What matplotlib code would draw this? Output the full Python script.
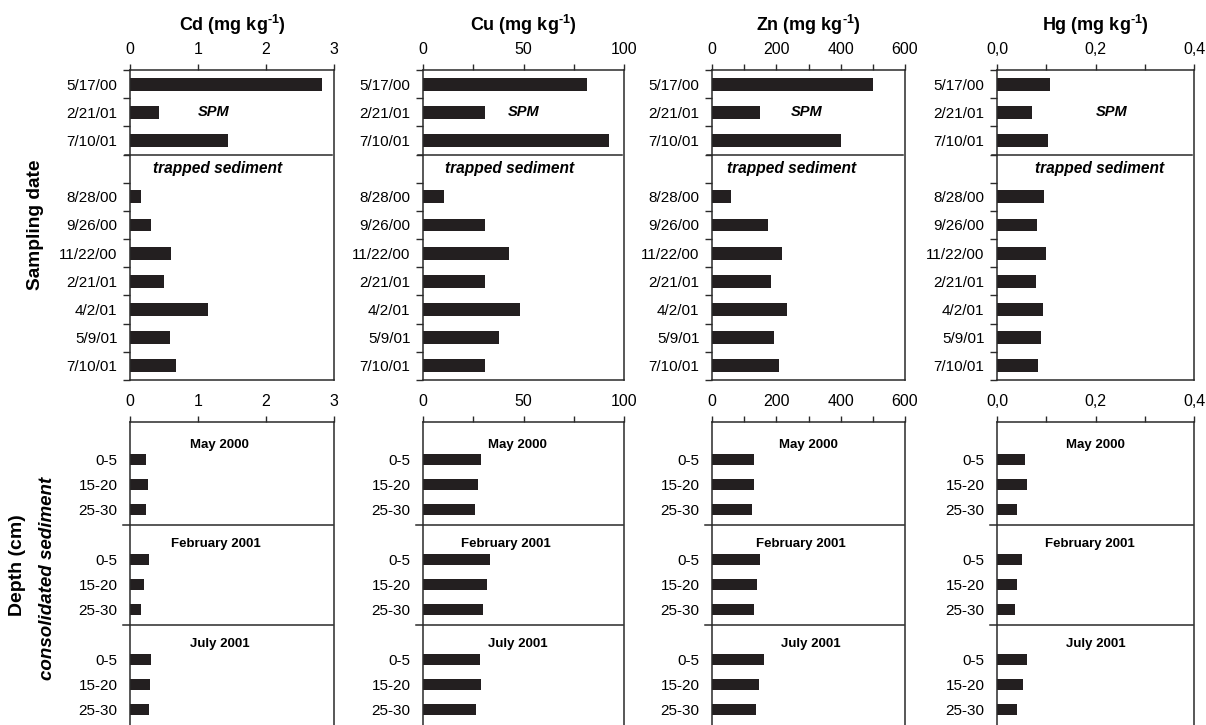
import numpy as np
import matplotlib
matplotlib.use("Agg")
import matplotlib.pyplot as plt
import matplotlib.transforms as mtransforms
from matplotlib.ticker import FixedLocator, FuncFormatter

plt.rcParams['font.family'] = ['Liberation Sans', 'DejaVu Sans']
plt.rcParams['mathtext.fontset'] = 'custom'
plt.rcParams['mathtext.rm'] = 'Liberation Sans:bold'
plt.rcParams['mathtext.bf'] = 'Liberation Sans:bold'

# --- data ---
metals = ["Cd", "Cu", "Zn", "Hg"]
xmax = [3, 100, 600, 0.4]
major_step = [1, 50, 200, 0.2]
minor_step = [1, 25, 100, 0.1]

spm_dates = ["5/17/00", "2/21/01", "7/10/01"]
trap_dates = ["8/28/00", "9/26/00", "11/22/00", "2/21/01", "4/2/01", "5/9/01", "7/10/01"]
depths = ["0-5", "15-20", "25-30"]
core_dates = ["May 2000", "February 2001", "July 2001"]

spm_cd = [2.83, 0.42, 1.44]
spm_cu = [81.6, 30.6, 92.7]
spm_zn = [501, 150, 402]
spm_hg = [0.107, 0.072, 0.103]

trap_cd = [0.16, 0.31, 0.61, 0.50, 1.15, 0.59, 0.67]
trap_cu = [10.2, 30.6, 43.0, 30.9, 48.5, 37.7, 30.6]
trap_zn = [59, 173, 218, 182, 234, 194, 209]
trap_hg = [0.096, 0.081, 0.099, 0.080, 0.093, 0.089, 0.083]

# consolidated sediment: rows = May 2000, Feb 2001, Jul 2001; cols = depths
core_cd = [[0.235, 0.265, 0.235], [0.275, 0.205, 0.155], [0.31, 0.29, 0.275]]
core_cu = [[28.7, 27.5, 25.7], [33.2, 31.7, 29.7], [28.2, 28.7, 26.2]]
core_zn = [[132, 130, 123], [149, 140, 132], [163, 146, 137]]
core_hg = [[0.056, 0.060, 0.041], [0.050, 0.041, 0.036], [0.060, 0.052, 0.041]]

spm_all = [spm_cd, spm_cu, spm_zn, spm_hg]
trap_all = [trap_cd, trap_cu, trap_zn, trap_hg]
core_all = [core_cd, core_cu, core_zn, core_hg]

# --- layout (pixels) ---
W, H = 1206, 725
col_px = [(130, 334), (423, 624), (712, 905), (997, 1194)]
top_px = (70, 380)
bot_px = (422, 725)
spm_x = [0.41, 0.50, 0.49, 0.58]
trap_x = [0.43, 0.43, 0.41, 0.52]
core_x = [[0.44, 0.42, 0.44], [0.47, 0.41, 0.47], [0.50, 0.46, 0.51], [0.50, 0.47, 0.50]]

bar_c = '#231f20'
line_c = '#2a2a2a'

fig = plt.figure(figsize=(W / 100, H / 100), dpi=100)


def fmt_factory(i):
    if metals[i] == "Hg":
        return FuncFormatter(lambda v, p: f"{v:.1f}".replace('.', ','))
    return FuncFormatter(lambda v, p: f"{v:g}")


def style_axes(ax, i):
    ax.set_xlim(0, xmax[i])
    ax.xaxis.set_ticks_position('top')
    ax.xaxis.set_label_position('top')
    ax.xaxis.set_major_locator(FixedLocator(np.arange(0, xmax[i] + 1e-9, major_step[i])))
    ax.xaxis.set_minor_locator(FixedLocator(np.arange(0, xmax[i] + 1e-9, minor_step[i])))
    ax.xaxis.set_major_formatter(fmt_factory(i))
    ax.tick_params(axis='x', which='both', direction='out', length=4, width=1,
                   color=line_c, labelsize=11.5, pad=5)
    ax.tick_params(axis='y', which='major', length=0, pad=9, labelsize=11)
    ax.tick_params(axis='y', which='minor', direction='out', length=5, width=1, color=line_c)
    for s in ['top', 'left', 'right', 'bottom']:
        ax.spines[s].set_color(line_c)
        ax.spines[s].set_linewidth(1.1)


for i in range(4):
    x0, x1 = col_px[i]
    # ---- top panel: SPM + trapped sediment ----
    ax = fig.add_axes([x0 / W, 1 - top_px[1] / H, (x1 - x0) / W, (top_px[1] - top_px[0]) / H])
    ypos = list(np.arange(3) + 0.5) + list(np.arange(7) + 4.5)
    vals = spm_all[i] + trap_all[i]
    ax.barh(ypos, vals, height=0.46, color=bar_c)
    ax.set_ylim(11, 0)
    ax.set_yticks(ypos)
    ax.set_yticklabels(spm_dates + trap_dates)
    ax.yaxis.set_minor_locator(FixedLocator(np.arange(0, 12)))
    style_axes(ax, i)
    trans = mtransforms.blended_transform_factory(ax.transAxes, ax.transData)
    ax.plot([-0.025, 0.99], [3, 3], color=line_c, lw=1.1, transform=trans, clip_on=False)
    ax.text(spm_x[i], 1.5, "SPM", transform=trans, ha='center', va='center',
            fontsize=10.5, fontweight='bold', style='italic')
    ax.text(trap_x[i], 3.5, "trapped sediment", transform=trans, ha='center', va='center',
            fontsize=11.2, fontweight='bold', style='italic')
    ax.text(0.5, 1 + 45 / (top_px[1] - top_px[0]), metals[i] + r" (mg kg$^{\text{-1}}$)",
            transform=ax.transAxes, ha='center', va='center', fontsize=13, fontweight='bold')

    # ---- bottom panel: consolidated sediment ----
    axb = fig.add_axes([x0 / W, 1 - bot_px[1] / H, (x1 - x0) / W, (bot_px[1] - bot_px[0]) / H])
    ypos_b, vals_b, labs_b = [], [], []
    for g in range(3):
        for d in range(3):
            ypos_b.append(4 * g + 1.5 + d)
            vals_b.append(core_all[i][g][d])
            labs_b.append(depths[d])
    axb.barh(ypos_b, vals_b, height=0.43, color=bar_c)
    axb.set_ylim((bot_px[1] - bot_px[0]) / 25, 0)
    axb.set_yticks(ypos_b)
    axb.set_yticklabels(labs_b)
    style_axes(axb, i)
    axb.spines['bottom'].set_visible(False)
    transb = mtransforms.blended_transform_factory(axb.transAxes, axb.transData)
    for g in range(3):
        if g > 0:
            axb.plot([-0.035, 0.995], [4 * g + 0.1, 4 * g + 0.1], color=line_c, lw=1.1,
                     transform=transb, clip_on=False)
        axb.text(core_x[i][g], 4 * g + 0.9, core_dates[g], transform=transb, ha='center',
                 va='center', fontsize=9.5, fontweight='bold')

fig.text(35 / W, 1 - 225 / H, "Sampling date", rotation=90, ha='center', va='center',
         fontsize=13.8, fontweight='bold')
fig.text(18 / W, 1 - 565 / H, "Depth (cm)", rotation=90, ha='center', va='center',
         fontsize=14, fontweight='bold')
fig.text(47 / W, 1 - 578 / H, "consolidated sediment", rotation=90, ha='center', va='center',
         fontsize=13.5, fontweight='bold', style='italic')

fig.savefig("out.png", dpi=100)
plt.close(fig)
